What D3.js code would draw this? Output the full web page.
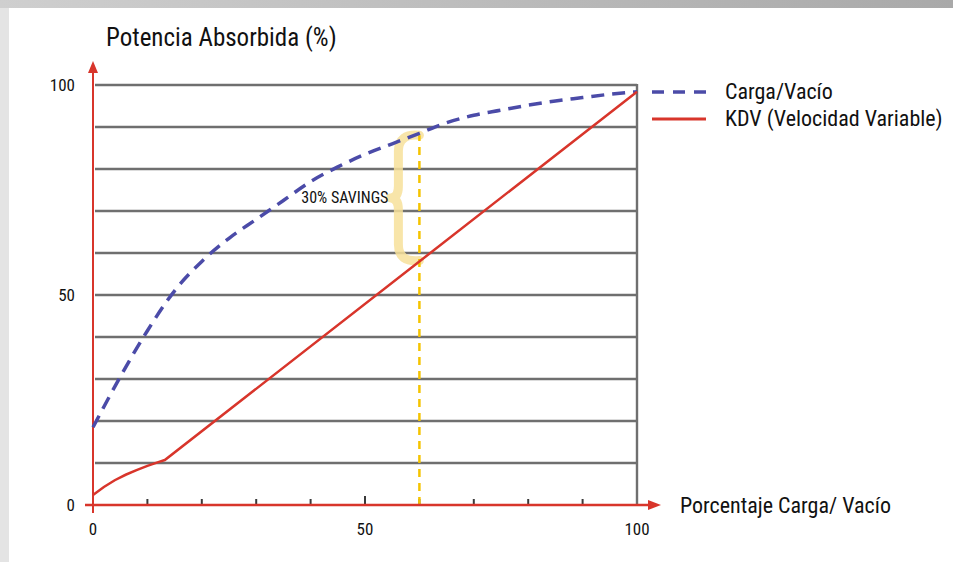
<!DOCTYPE html>
<html>
<head>
<meta charset="utf-8">
<script src="https://cdn.jsdelivr.net/npm/d3@7"></script>
<style>
  body { margin: 0; background: #fff; }
  text { font-family: "Liberation Sans Narrow", "Roboto Condensed", "Arial Narrow", sans-serif; fill: #111; }
</style>
</head>
<body>
<svg id="drawing_region"></svg>
<script>
// Carga/Vacío (dashed)
const load_x = [0, 5, 10, 15, 20, 25, 30, 35, 40, 45, 50, 55, 60, 65, 70, 75, 80, 85, 90, 95, 100];
const load_y = [18.5, 30.5, 41.5, 51, 58, 63.5, 68, 72.5, 77, 80.5, 83.5, 86, 88.5, 91, 92.8, 94, 95.2, 96.2, 97, 97.8, 98.4];

// KDV (Velocidad Variable)
const kdv_x = [0, 2, 4, 6, 8, 10, 12, 13.2, 100];
const kdv_y = [2.4, 4.3, 5.9, 7.2, 8.3, 9.3, 10.2, 10.7, 98.4];

const grid_values = [10, 20, 30, 40, 50, 60, 70, 80, 90, 100];
const xtick_minor = [10, 20, 30, 40, 50, 60, 70, 80, 90];
const xtick_labels = [0, 50, 100];
const ytick_labels = [0, 50, 100];
const savings_x = 60;
const savings_label = "30% SAVINGS";
const legend_names = ["Carga/Vacío", "KDV (Velocidad Variable)"];

const config = {
    width: 953,
    height: 562,
    x0: 93, x1: 637,
    y0: 505, y1: 85
};

const svg = d3.select('#drawing_region')
    .attr('width', config.width)
    .attr('height', config.height);

// page frame
const defs = svg.append('defs');
const grad = defs.append('linearGradient').attr('id', 'topband');
grad.append('stop').attr('offset', '0%').attr('stop-color', '#cfcfcf');
grad.append('stop').attr('offset', '100%').attr('stop-color', '#a9a9a9');
svg.append('rect').attr('width', config.width).attr('height', config.height).attr('fill', '#e4e4e4');
svg.append('rect').attr('width', config.width).attr('height', 8).attr('fill', 'url(#topband)');
svg.append('rect').attr('x', 9).attr('y', 8).attr('width', config.width - 9).attr('height', config.height - 8).attr('fill', '#fff');

const xscale = d3.scaleLinear().domain([0, 100]).range([config.x0, config.x1]);
const yscale = d3.scaleLinear().domain([0, 100]).range([config.y0, config.y1]);

// grid
svg.append('g').selectAll('line')
    .data(grid_values)
    .join('line')
    .attr('x1', xscale(0) + 2).attr('x2', xscale(100))
    .attr('y1', d => yscale(d)).attr('y2', d => yscale(d))
    .attr('stroke', '#6f6f6f').attr('stroke-width', 2.4);

svg.append('line')
    .attr('x1', xscale(100)).attr('x2', xscale(100))
    .attr('y1', yscale(100) - 1).attr('y2', yscale(0))
    .attr('stroke', '#6f6f6f').attr('stroke-width', 2.4);

// savings brace
const bx = xscale(savings_x);
const btop = yscale(load_y[load_x.indexOf(savings_x)]) + 2;
const bbot = yscale(58.2);
const bmid = (btop + bbot) / 2;
const sx = bx - 21;
svg.append('path')
    .attr('d', `M ${bx} ${btop} Q ${sx} ${btop - 2} ${sx} ${btop + 16} L ${sx} ${bmid - 12}
                Q ${sx} ${bmid} ${sx - 8} ${bmid} Q ${sx} ${bmid} ${sx} ${bmid + 12}
                L ${sx} ${bbot - 16} Q ${sx} ${bbot + 2} ${bx} ${bbot}`)
    .attr('fill', 'none')
    .attr('stroke', '#f7e09a')
    .attr('stroke-opacity', 0.85)
    .attr('stroke-width', 9)
    .attr('stroke-linecap', 'round')
    .attr('stroke-linejoin', 'round');

svg.append('text')
    .attr('x', sx - 10).attr('y', bmid + 5)
    .attr('text-anchor', 'end')
    .attr('font-size', '16px')
    .text(savings_label);

// x ticks
svg.append('g').selectAll('line')
    .data(xtick_minor)
    .join('line')
    .attr('x1', d => xscale(d)).attr('x2', d => xscale(d))
    .attr('y1', d => yscale(0) - (d === 50 ? 9 : 6)).attr('y2', yscale(0))
    .attr('stroke', '#3a3a3a').attr('stroke-width', 2);

// yellow marker line
svg.append('line')
    .attr('x1', xscale(savings_x)).attr('x2', xscale(savings_x))
    .attr('y1', yscale(0)).attr('y2', btop)
    .attr('stroke', '#f5c400').attr('stroke-width', 2.5)
    .attr('stroke-dasharray', '8,6');

// axes
const red = '#d8352b';
svg.append('line')
    .attr('x1', xscale(0)).attr('x2', xscale(0))
    .attr('y1', yscale(0) + 8).attr('y2', yscale(100) - 14)
    .attr('stroke', red).attr('stroke-width', 2);
svg.append('path')
    .attr('d', `M ${xscale(0)} ${yscale(100) - 24} l -5 12 l 10 0 z`)
    .attr('fill', red);
svg.append('line')
    .attr('x1', xscale(0) - 8).attr('x2', xscale(100) + 12)
    .attr('y1', yscale(0)).attr('y2', yscale(0))
    .attr('stroke', red).attr('stroke-width', 2.5);
svg.append('path')
    .attr('d', `M ${xscale(100) + 24} ${yscale(0)} l -13 -5 l 0 10 z`)
    .attr('fill', red);

// series
const line = d3.line().x(d => xscale(d[0])).y(d => yscale(d[1]));

svg.append('path')
    .datum(load_x.map((x, i) => [x, load_y[i]]))
    .attr('d', line.curve(d3.curveMonotoneX))
    .attr('fill', 'none')
    .attr('stroke', '#4b4ba8')
    .attr('stroke-width', 3.5)
    .attr('stroke-dasharray', '13,8');

svg.append('path')
    .datum(kdv_x.map((x, i) => [x, kdv_y[i]]))
    .attr('d', d3.line().x(d => xscale(d[0])).y(d => yscale(d[1])))
    .attr('fill', 'none')
    .attr('stroke', red)
    .attr('stroke-width', 2.5);

// tick labels
svg.append('g').selectAll('text')
    .data(ytick_labels)
    .join('text')
    .attr('x', 75).attr('y', d => yscale(d) + 6)
    .attr('text-anchor', 'end')
    .attr('font-size', '17px')
    .text(d => d);

svg.append('g').selectAll('text')
    .data(xtick_labels)
    .join('text')
    .attr('x', d => xscale(d)).attr('y', yscale(0) + 30)
    .attr('text-anchor', 'middle')
    .attr('font-size', '17px')
    .text(d => d);

// axis titles
svg.append('text')
    .attr('x', 106).attr('y', 46)
    .attr('font-size', '25px')
    .text('Potencia Absorbida (%)');

svg.append('text')
    .attr('x', 680).attr('y', yscale(0) + 8)
    .attr('font-size', '22px')
    .text('Porcentaje Carga/ Vacío');

// legend
const legend = svg.append('g').attr('transform', 'translate(652, 92)');
legend.append('line')
    .attr('x1', 0).attr('x2', 54).attr('y1', 0).attr('y2', 0)
    .attr('stroke', '#4b4ba8').attr('stroke-width', 3.5)
    .attr('stroke-dasharray', '12,9');
legend.append('line')
    .attr('x1', 0).attr('x2', 54).attr('y1', 27).attr('y2', 27)
    .attr('stroke', red).attr('stroke-width', 3);
legend.selectAll('text')
    .data(legend_names)
    .join('text')
    .attr('x', 73).attr('y', (d, i) => i * 27 + 7)
    .attr('font-size', '22px')
    .text(d => d);
</script>
</body>
</html>
